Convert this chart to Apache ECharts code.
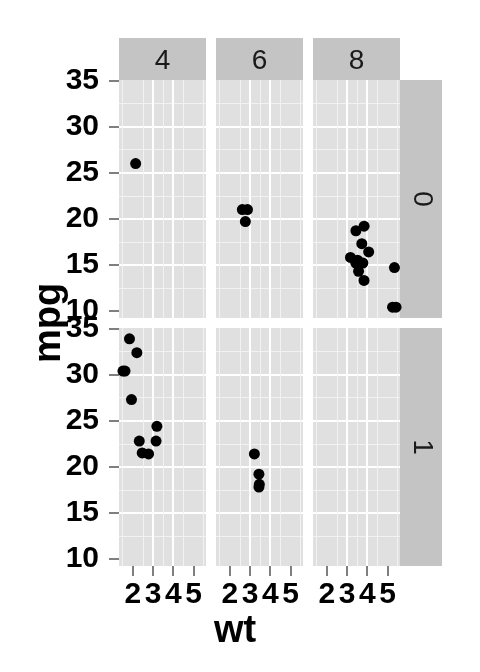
<!DOCTYPE html>
<html>
<head>
<meta charset="utf-8">
<script src="https://cdn.jsdelivr.net/npm/echarts@6/dist/echarts.min.js"></script>
<style>html,body{margin:0;padding:0;background:#fff;}#c{width:480px;height:672px;}</style>
</head>
<body>
<div id="c"></div>
<script>
// Facet labels
const colFacets = ['4', '6', '8'];      // cyl
const rowFacets = ['0', '1'];           // vs
const xTicks = [2, 3, 4, 5];
const yTicks = [10, 15, 20, 25, 30, 35];

// wt / mpg values per panel (row vs, column cyl)
const wt_0_4 = [2.14];
const mpg_0_4 = [26.0];
const wt_0_6 = [2.62, 2.875, 2.77];
const mpg_0_6 = [21.0, 21.0, 19.7];
const wt_0_8 = [3.44, 3.57, 4.07, 3.73, 3.78, 5.25, 5.424, 5.345, 3.52, 3.435, 3.84, 3.845, 3.17, 3.57];
const mpg_0_8 = [18.7, 14.3, 16.4, 17.3, 15.2, 10.4, 10.4, 14.7, 15.5, 15.2, 13.3, 19.2, 15.8, 15.0];
const wt_1_4 = [2.32, 3.19, 3.15, 2.2, 1.615, 1.835, 2.465, 1.935, 1.513, 2.78];
const mpg_1_4 = [22.8, 24.4, 22.8, 32.4, 30.4, 33.9, 21.5, 27.3, 30.4, 21.4];
const wt_1_6 = [3.215, 3.46, 3.44, 3.44];
const mpg_1_6 = [21.4, 18.1, 19.2, 17.8];
const wt_1_8 = [];
const mpg_1_8 = [];

const panels = [
  [[wt_0_4, mpg_0_4], [wt_0_6, mpg_0_6], [wt_0_8, mpg_0_8]],
  [[wt_1_4, mpg_1_4], [wt_1_6, mpg_1_6], [wt_1_8, mpg_1_8]]
];

const allWt = [].concat(wt_0_4, wt_0_6, wt_0_8, wt_1_4, wt_1_6);
const allMpg = [].concat(mpg_0_4, mpg_0_6, mpg_0_8, mpg_1_4, mpg_1_6);
function expand(arr) {
  const lo = Math.min.apply(null, arr), hi = Math.max.apply(null, arr);
  const d = (hi - lo) * 0.05;
  return [lo - d, hi + d];
}
const xr = expand(allWt), yr = expand(allMpg);

const FONT = '"Liberation Sans", Arial, Helvetica, sans-serif';
const colLeft = [119, 216, 313];
const colW = 87;
const rowTop = [80, 328];
const rowH = 238;

const grids = [], xAxes = [], yAxes = [], series = [], graphics = [];
let gi = 0;
for (let r = 0; r < 2; r++) {
  for (let c = 0; c < 3; c++) {
    grids.push({left: colLeft[c], top: rowTop[r], width: colW, height: rowH,
      show: true, backgroundColor: '#E0E0E0', borderWidth: 0, containLabel: false});
    xAxes.push({
      gridIndex: gi, type: 'value', min: xr[0], max: xr[1],
      minInterval: 1, maxInterval: 1, splitNumber: 4,
      axisLine: {show: false, onZero: false},
      axisTick: {show: r === 1, length: 10, customValues: xTicks, lineStyle: {color: '#7F7F7F', width: 2}},
      axisLabel: {show: r === 1, customValues: xTicks, fontSize: 30, fontWeight: 'bold', color: '#000', fontFamily: FONT, margin: 14,
        showMinLabel: true, showMaxLabel: true},
      splitLine: {show: true, showMinLine: false, showMaxLine: false, lineStyle: {color: '#FFFFFF', width: 2}},
      minorTick: {show: false, splitNumber: 2},
      minorSplitLine: {show: true, lineStyle: {color: '#F2F2F2', width: 1}}
    });
    yAxes.push({
      gridIndex: gi, type: 'value', min: yr[0], max: yr[1],
      minInterval: 5, maxInterval: 5, splitNumber: 5,
      axisLine: {show: false, onZero: false},
      axisTick: {show: c === 0, length: 10, customValues: yTicks, lineStyle: {color: '#7F7F7F', width: 2}},
      axisLabel: {show: c === 0, customValues: yTicks, fontSize: 30, fontWeight: 'bold', color: '#000', fontFamily: FONT, margin: 20,
        showMinLabel: true, showMaxLabel: true},
      splitLine: {show: true, showMinLine: false, showMaxLine: false, lineStyle: {color: '#FFFFFF', width: 2}},
      minorTick: {show: false, splitNumber: 2},
      minorSplitLine: {show: true, lineStyle: {color: '#F2F2F2', width: 1}}
    });
    const p = panels[r][c];
    series.push({
      type: 'scatter', xAxisIndex: gi, yAxisIndex: gi,
      data: p[0].map((w, i) => [w, p[1][i]]),
      symbol: 'circle', symbolSize: 11,
      itemStyle: {color: '#000', opacity: 1},
      emphasis: {disabled: true}, clip: false, z: 3
    });
    gi++;
  }
}

// strips (top)
for (let c = 0; c < 3; c++) {
  graphics.push({type: 'rect', shape: {x: colLeft[c], y: 38, width: colW, height: 42}, style: {fill: '#C4C4C4'}, silent: true});
  graphics.push({type: 'text', x: colLeft[c] + colW / 2, y: 61, style: {text: colFacets[c], fontSize: 28, fontFamily: FONT, fill: '#1A1A1A', align: 'center', verticalAlign: 'middle'}, silent: true});
}
// strips (right)
for (let r = 0; r < 2; r++) {
  graphics.push({type: 'rect', shape: {x: 400, y: rowTop[r], width: 42, height: rowH}, style: {fill: '#C4C4C4'}, silent: true});
  graphics.push({type: 'text', x: 422, y: rowTop[r] + rowH / 2, rotation: -Math.PI / 2, style: {text: rowFacets[r], fontSize: 28, fontFamily: FONT, fill: '#1A1A1A', align: 'center', verticalAlign: 'middle'}, silent: true});
}
// axis titles
graphics.push({type: 'text', x: 235, y: 632, style: {text: 'wt', fontSize: 38, fontWeight: 'bold', fontFamily: FONT, fill: '#000', align: 'center', verticalAlign: 'middle'}, silent: true});
graphics.push({type: 'text', x: 50, y: 323, rotation: Math.PI / 2, style: {text: 'mpg', fontSize: 38, fontWeight: 'bold', fontFamily: FONT, fill: '#000', align: 'center', verticalAlign: 'middle'}, silent: true, z: 10});

const chart = echarts.init(document.getElementById('c'), null, {renderer: 'canvas'});
chart.setOption({
  animation: false,
  backgroundColor: '#FFFFFF',
  grid: grids, xAxis: xAxes, yAxis: yAxes, series: series,
  graphic: graphics
});
</script>
</body>
</html>
